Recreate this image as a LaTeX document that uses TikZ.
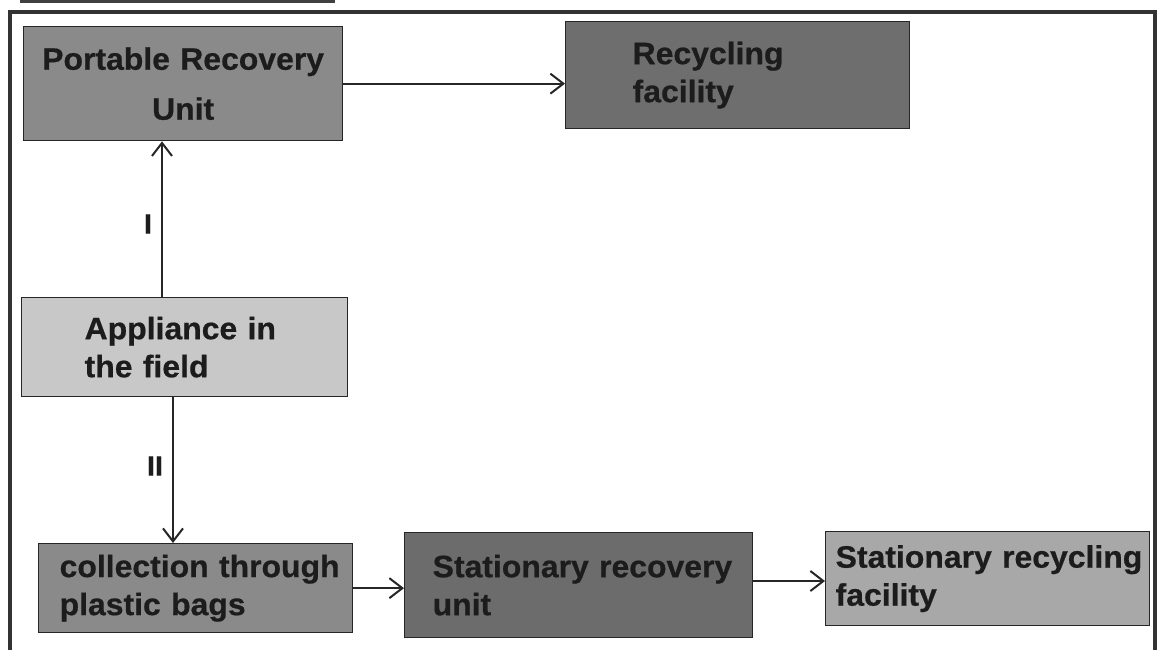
\documentclass[tikz,border=0pt]{standalone}
\usepackage{fontspec}
\setmainfont{Liberation Sans}[BoldFeatures={FakeStretch=1.03,FakeBold=0.6}]
\usetikzlibrary{arrows.meta}
\definecolor{cpru}{HTML}{8A8A8A}
\definecolor{crec}{HTML}{6E6E6E}
\definecolor{capp}{HTML}{C8C8C8}
\definecolor{ccol}{HTML}{8A8A8A}
\definecolor{csr}{HTML}{6C6C6C}
\definecolor{csrf}{HTML}{A8A8A8}
\definecolor{ink}{HTML}{1C1C1C}
\begin{document}
\begin{tikzpicture}[x=1pt,y=-1pt,
  box/.style={draw=black!85, line width=1.3pt, anchor=north west, inner sep=0pt,
    font=\bfseries\fontsize{31}{38}\selectfont, text=ink, align=left},
  conn/.style={line width=2pt, draw=black!85,
    -{Straight Barb[length=13pt,width=20pt,line width=2pt]}},
  lbl/.style={font=\bfseries\fontsize{28}{32}\selectfont, text=ink}]
\useasboundingbox (0,0) rectangle (1161,649);
\fill[white] (0,0) rectangle (1161,649);
% top remnant line and frame
\draw[line width=3pt, black!75] (20,1) -- (335,1);
\draw[line width=4pt, black!80] (10,665) -- (10,12) -- (1155,12) -- (1155,665);

\node[box, fill=cpru, minimum width=319pt, minimum height=114pt, text width=300pt,
  align=center, font=\bfseries\fontsize{31}{50}\selectfont] (pru) at (23,26)
  {\mbox{Portable Recovery}\\Unit};
\node[box, fill=crec, minimum width=344pt, minimum height=107pt, text width=210pt]
  (rec) at (565,21) {Recycling\\facility};
\node[box, fill=capp, minimum width=326pt, minimum height=99pt, text width=200pt]
  (app) at (21,297) {\mbox{Appliance in}\\the field};
\node[box, fill=ccol, minimum width=314pt, minimum height=89pt, text width=272pt]
  (col) at (38,543) {\mbox{collection through}\\plastic bags};
\node[box, fill=csr, minimum width=348pt, minimum height=105pt, text width=292pt]
  (sr) at (404,532) {\mbox{Stationary recovery}\\unit};
\node[box, fill=csrf, minimum width=324pt, minimum height=94pt, text width=304pt]
  (srf) at (825,531) {\mbox{Stationary recycling}\\facility};

\coordinate (xi) at (162,0);
\coordinate (xii) at (173,0);
\coordinate (ylow) at (0,581);

\draw[conn] (pru.east) -- (pru.east -| rec.west);
\draw[conn] (app.north -| xi) -- (pru.south -| xi);
\draw[conn] (app.south -| xii) -- (col.north -| xii);
\draw[conn] (col.east) -- (col.east -| sr.west);
\draw[conn] (sr.east |- ylow) -- (srf.west |- ylow);

\node[lbl] (l1) at (148,224) {I};
\node[lbl] (l2) at (155,466) {II};
\end{tikzpicture}
\end{document}
